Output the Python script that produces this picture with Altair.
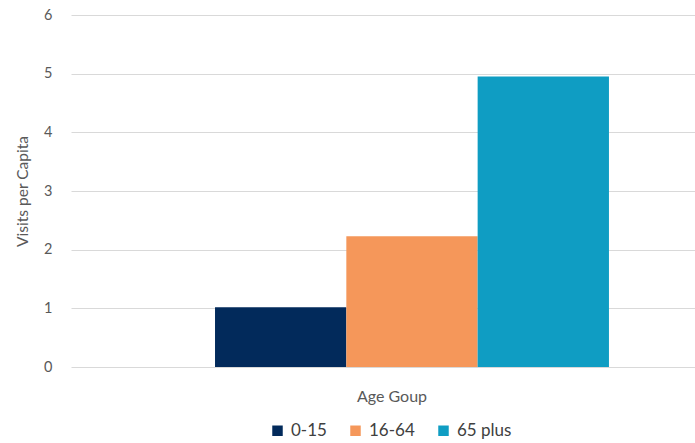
import altair as alt
import pandas as pd

# Visits per capita by age group
categories = ["Age Goup"]
groups = ["0-15", "16-64", "65 plus"]
values = [1.02, 2.23, 4.95]
colors = ["#022A5B", "#F5975A", "#0F9DC3"]

df = pd.DataFrame({
    "category": categories * len(groups),
    "group": groups,
    "value": values,
})

FONT = "Lato"
TEXT = "#595959"

bars = alt.Chart(df).mark_bar().encode(
    x=alt.X(
        "category:N",
        title=None,
        scale=alt.Scale(paddingInner=0, paddingOuter=0.292, align=0.626),
        axis=alt.Axis(
            domain=False, ticks=False, labelAngle=0, labelFontSize=16,
            labelColor=TEXT, labelPadding=21, labelOffset=-20, labelFont=FONT,
        ),
    ),
    xOffset=alt.XOffset("group:N", sort=groups, scale=alt.Scale(paddingInner=0, paddingOuter=0)),
    y=alt.Y(
        "value:Q",
        title="Visits per Capita",
        scale=alt.Scale(domain=[0, 6], nice=False),
        axis=alt.Axis(
            values=[0, 1, 2, 3, 4, 5, 6], format="d", domain=False, ticks=False,
            grid=True, gridColor="#D9D9D9", gridWidth=1.2,
            labelFontSize=14.5, labelColor=TEXT, labelPadding=19, labelFont=FONT,
            titleFontSize=15.5, titleColor=TEXT, titleFontWeight="normal",
            titleFont=FONT, titlePadding=13,
        ),
    ),
    color=alt.Color(
        "group:N",
        sort=groups,
        scale=alt.Scale(domain=groups, range=colors),
        legend=alt.Legend(
            title=None, orient="none", direction="horizontal",
            legendX=269 - 71, legendY=422 - 15,
            symbolType="square", symbolSize=110, symbolStrokeWidth=0,
            symbolOpacity=1, labelFontSize=17, labelColor="#404040",
            labelFont=FONT, columnPadding=20, labelOffset=5,
        ),
    ),
)

chart = bars.properties(
    width=624,
    height=352,
    autosize=alt.AutoSizeParams(type="none"),
    padding={"left": 71, "top": 15, "right": 0, "bottom": 76},
).configure_view(stroke=None)

chart.save("out.html", embed_options={"renderer": "svg", "actions": False})
